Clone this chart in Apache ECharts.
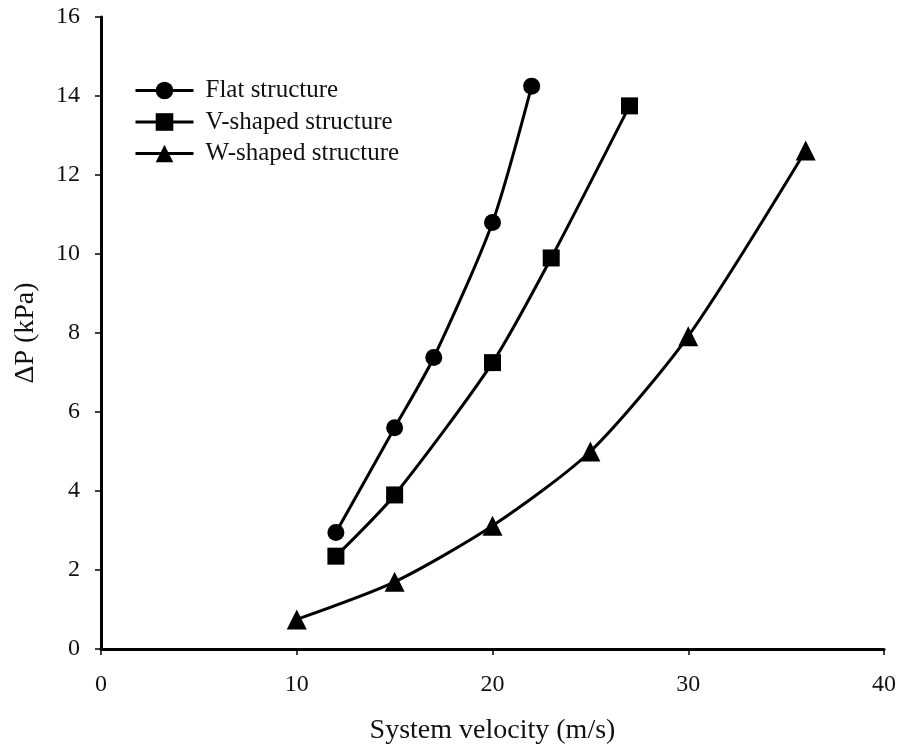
<!DOCTYPE html>
<html>
<head>
<meta charset="utf-8">
<script src="https://cdn.jsdelivr.net/npm/echarts@6/dist/echarts.min.js"></script>
<style>
  html, body { margin: 0; padding: 0; background: #fff; }
  #chart { width: 899px; height: 750px; }
</style>
</head>
<body>
<div id="chart"></div>
<script>
// Pressure drop vs. system velocity for three structure types
const flatVelocity = [12, 15, 17, 20, 22];
const flatDP = [2.95, 5.6, 7.38, 10.8, 14.25];

const vVelocity = [12, 15, 20, 23, 27];
const vDP = [2.35, 3.9, 7.25, 9.9, 13.75];

const wVelocity = [10, 15, 20, 25, 30, 36];
const wDP = [0.75, 1.7, 3.12, 5.0, 7.92, 12.62];

const seriesNames = ['Flat structure', 'V-shaped structure', 'W-shaped structure'];
const xTitle = 'System velocity (m/s)';
const yTitle = '\u0394P (kPa)';

const pair = (xs, ys) => xs.map((x, i) => [x, ys[i]]);
const fontFamily = '"Liberation Serif", "Times New Roman", serif';
const textColor = '#111';

const chart = echarts.init(document.getElementById('chart'));

function makeSeries(name, data, symbol, size) {
  return {
    name: name,
    type: 'line',
    data: data,
    smooth: 0.25,
    symbol: symbol,
    symbolSize: size,
    showAllSymbol: true,
    lineStyle: { color: '#000', width: 3 },
    itemStyle: { color: '#000' },
    emphasis: { disabled: true },
    z: 3
  };
}

chart.setOption({
  animation: false,
  backgroundColor: '#fff',
  grid: { left: 101, right: 14, top: 17, bottom: 101 },
  legend: {
    orient: 'vertical',
    left: 129,
    top: 73,
    itemWidth: 58,
    itemHeight: 22,
    itemGap: 6.5,
    lineStyle: { width: 3 },
    textStyle: { fontFamily: fontFamily, fontSize: 25, color: textColor, padding: [0, 0, 0, 7] },
    data: seriesNames
  },
  xAxis: {
    type: 'value',
    min: 0,
    max: 40,
    interval: 10,
    name: xTitle,
    nameLocation: 'middle',
    nameGap: 68,
    nameTextStyle: { fontFamily: fontFamily, fontSize: 28, color: textColor },
    axisLine: { onZero: false, lineStyle: { color: '#000', width: 3 } },
    axisTick: { show: true, inside: false, length: 6, lineStyle: { color: '#000', width: 1.5 } },
    axisLabel: { fontFamily: fontFamily, fontSize: 24, color: textColor, margin: 24 },
    splitLine: { show: false }
  },
  yAxis: {
    type: 'value',
    min: 0,
    max: 16,
    interval: 2,
    name: yTitle,
    nameLocation: 'middle',
    nameGap: 61,
    nameRotate: 90,
    nameTextStyle: { fontFamily: fontFamily, fontSize: 28, color: textColor },
    axisLine: { onZero: false, lineStyle: { color: '#000', width: 3 } },
    axisTick: { show: true, inside: false, length: 6, lineStyle: { color: '#000', width: 1.5 } },
    axisLabel: { fontFamily: fontFamily, fontSize: 24, color: textColor, margin: 21 },
    splitLine: { show: false }
  },
  series: [
    makeSeries(seriesNames[0], pair(flatVelocity, flatDP), 'circle', 17),
    makeSeries(seriesNames[1], pair(vVelocity, vDP), 'rect', 17),
    makeSeries(seriesNames[2], pair(wVelocity, wDP), 'triangle', 20)
  ]
});
</script>
</body>
</html>
